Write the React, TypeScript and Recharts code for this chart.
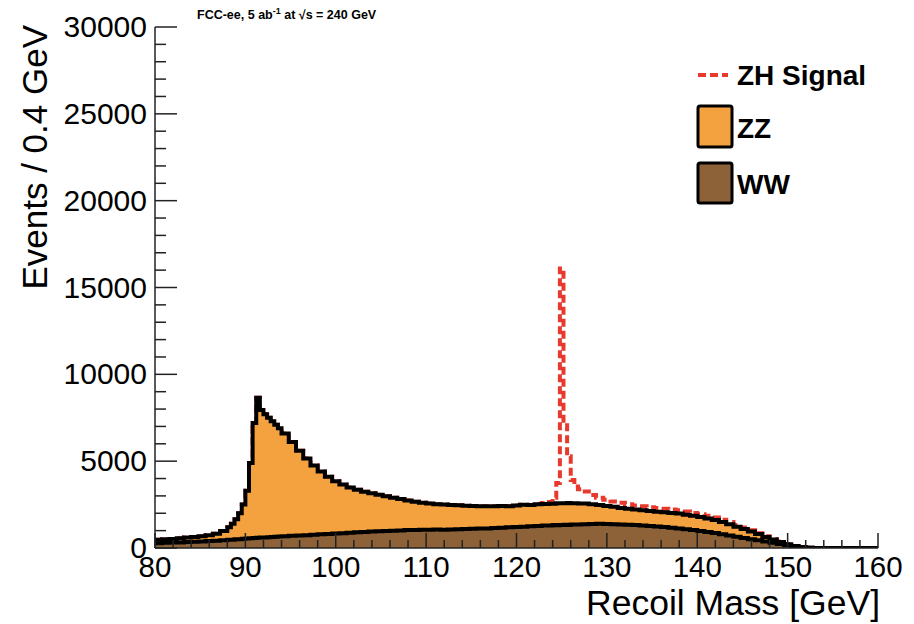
import React from 'react';
import { ComposedChart, Area, XAxis, YAxis, Legend, Label } from 'recharts';

// low edge of each bin [GeV]; the last entry only closes the final step
const massBins = [
  80.0, 80.8, 81.6, 82.4, 83.2, 84.0, 84.8, 85.6, 86.4, 87.2,
  88.0, 88.4, 88.8, 89.2, 89.6, 90.0, 90.4, 90.8, 91.2, 91.6, 92.0, 92.4, 92.8, 93.2, 93.6,
  94.0, 94.8, 95.6, 96.4, 97.2, 98.0, 98.8, 99.6, 100.4, 101.2,
  102.0, 102.8, 103.6, 104.4, 105.2, 106.0, 106.8, 107.6, 108.4, 109.2,
  110.0, 110.8, 111.6, 112.4, 113.2, 114.0, 114.8, 115.6, 116.4, 117.2,
  118.0, 118.8, 119.6, 120.4, 121.2, 122.0, 122.8,
  123.6, 124.0, 124.4, 124.8, 125.2, 125.6, 126.0, 126.4, 126.8,
  127.2, 128.0, 128.8, 129.6, 130.4, 131.2, 132.0, 132.8, 133.6, 134.4,
  135.2, 136.0, 136.8, 137.6, 138.4, 139.2, 140.0, 140.8, 141.6, 142.4,
  143.2, 144.0, 144.8, 145.6, 146.4, 147.2, 148.0, 148.8, 149.6, 150.4,
  151.2, 152.0, 152.8,
  160.0,
];

const wwEvents = [
  280, 300, 310, 320, 340, 360, 380, 400, 420, 450,
  470, 480, 500, 510, 530, 550, 560, 570, 590, 600, 610, 620, 640, 650, 660,
  680, 700, 720, 740, 770, 790, 800, 830, 850, 880,
  900, 920, 950, 960, 980, 1000, 1010, 1030, 1040, 1050,
  1050, 1060, 1050, 1070, 1080, 1090, 1110, 1120, 1130, 1150,
  1170, 1190, 1210, 1230, 1250, 1270, 1290,
  1300, 1320, 1310, 1330, 1340, 1330, 1350, 1360, 1350,
  1370, 1380, 1390, 1380, 1370, 1360, 1340, 1320, 1300, 1270,
  1240, 1210, 1170, 1130, 1080, 1030, 980, 920, 860, 790,
  720, 650, 580, 510, 440, 370, 300, 230, 170, 100,
  40, 10, 0,
  0,
];

const zzEvents = [
  200, 200, 210, 240, 260, 280, 300, 330, 400, 530,
  730, 920, 1150, 1490, 1970, 2750, 4340, 6630, 8060, 7350, 7090, 6880, 6660, 6450, 6240,
  5920, 5400, 4880, 4410, 3980, 3610, 3300, 3020, 2800, 2600,
  2450, 2320, 2200, 2110, 2000, 1900, 1810, 1710, 1620, 1550,
  1510, 1460, 1450, 1410, 1380, 1350, 1310, 1290, 1270, 1250,
  1250, 1220, 1240, 1260, 1230, 1250, 1240,
  1250, 1230, 1260, 1250, 1240, 1260, 1230, 1220, 1210,
  1190, 1140, 1090, 1040, 1000, 950, 920, 890, 870, 860,
  850, 850, 850, 850, 840, 820, 800, 780, 750, 710,
  650, 580, 510, 440, 360, 270, 190, 120, 50, 20,
  10, 0, 0,
  0,
];

const zhEvents = [
  0, 0, 0, 0, 0, 0, 0, 0, 0, 0,
  0, 0, 0, 0, 0, 0, 0, 0, 0, 0, 0, 0, 0, 0, 0,
  0, 0, 0, 0, 0, 0, 0, 0, 0, 0,
  0, 0, 0, 0, 0, 0, 0, 0, 0, 0,
  0, 0, 0, 0, 0, 0, 0, 0, 0, 0,
  0, 0, 0, 0, 0, 20, 60,
  100, 340, 1180, 13520, 4610, 2690, 1330, 960, 830,
  690, 530, 420, 360, 310, 290, 260, 240, 230, 220,
  210, 200, 200, 190, 180, 170, 160, 150, 140, 130,
  120, 100, 90, 70, 50, 40, 30, 20, 10, 0,
  0, 0, 0,
  0,
];

const xTicks = [
  80, 82, 84, 86, 88, 90, 92, 94, 96, 98, 100, 102, 104, 106, 108, 110, 112, 114, 116, 118, 120,
  122, 124, 126, 128, 130, 132, 134, 136, 138, 140, 142, 144, 146, 148, 150, 152, 154, 156, 158, 160,
];
const yTicks = [
  0, 1000, 2000, 3000, 4000, 5000, 6000, 7000, 8000, 9000, 10000, 11000, 12000, 13000, 14000, 15000,
  16000, 17000, 18000, 19000, 20000, 21000, 22000, 23000, 24000, 25000, 26000, 27000, 28000, 29000, 30000,
];

const W = 914;
const H = 624;
const PLOT = { left: 155, right: 878, top: 27, bottom: 548 };
const FONT = '"Liberation Sans", Arial, Helvetica, sans-serif';
const ORANGE = '#F4A13F';
const BROWN = '#8D6238';
const RED = '#E8392C';
const AXIS = '#222';

const data = massBins.map((m, i) => ({
  mass: m,
  ww: wwEvents[i],
  zz: zzEvents[i],
  total: wwEvents[i] + zzEvents[i] + zhEvents[i],
}));

const BottomTick = ({ x, payload }: any) => {
  const major = payload.value % 10 === 0;
  return (
    <g>
      <line x1={x} x2={x} y1={PLOT.bottom} y2={PLOT.bottom - (major ? 15 : 8)} stroke={AXIS} strokeWidth={1.5} />
      {major && (
        <text x={x} y={577} textAnchor="middle" fontSize={29.5} fontFamily={FONT} fill="#000">
          {payload.value}
        </text>
      )}
    </g>
  );
};

const TopTick = ({ x, payload }: any) => {
  const major = payload.value % 10 === 0;
  return <line x1={x} x2={x} y1={PLOT.top} y2={PLOT.top + (major ? 15 : 8)} stroke={AXIS} strokeWidth={1.5} />;
};

const LeftTick = ({ y, payload }: any) => {
  const major = payload.value % 5000 === 0;
  return (
    <g>
      <line x1={PLOT.left} x2={PLOT.left + (major ? 22 : 11)} y1={y} y2={y} stroke={AXIS} strokeWidth={1.5} />
      {major && (
        <text x={147} y={y + 10} textAnchor="end" fontSize={30} fontFamily={FONT} fill="#000">
          {payload.value}
        </text>
      )}
    </g>
  );
};

const RightTick = ({ y, payload }: any) => {
  const major = payload.value % 5000 === 0;
  return <line x1={PLOT.right} x2={PLOT.right - (major ? 22 : 11)} y1={y} y2={y} stroke={AXIS} strokeWidth={1.5} />;
};

const LegendBox = () => (
  <svg width={210} height={160}>
    <line x1={8} x2={38} y1={20} y2={20} stroke={RED} strokeWidth={4} strokeDasharray="8 4" />
    <text x={47} y={30} fontSize={28} fontWeight="bold" fontFamily={FONT} fill="#000">ZH Signal</text>
    <rect x={8} y={51} width={34} height={41} rx={2} fill={ORANGE} stroke="#000" strokeWidth={3} />
    <text x={47} y={83} fontSize={28} fontWeight="bold" fontFamily={FONT} fill="#000">ZZ</text>
    <rect x={8} y={108} width={34} height={40} rx={2} fill={BROWN} stroke="#000" strokeWidth={3} />
    <text x={47} y={139} fontSize={28} fontWeight="bold" fontFamily={FONT} fill="#000">WW</text>
  </svg>
);

const YTitle = () => (
  <g>
    <text x={197} y={19} fontSize={12.5} fontWeight="bold" fontFamily={FONT} fill="#000">
      FCC-ee, 5 ab
      <tspan dy={-5} fontSize={9}>-1</tspan>
      <tspan dy={5}> at √s = 240 GeV</tspan>
    </text>
    <text
      x={47}
      y={25}
      textAnchor="end"
      fontSize={35}
      fontFamily={FONT}
      fill="#000"
      transform="rotate(-90, 47, 25)"
    >
      Events / 0.4 GeV
    </text>
  </g>
);

export default function App() {
  return (
    <div style={{ position: 'absolute', left: 0, top: 0, width: W, height: H, background: '#fff' }}>
      <ComposedChart width={W} height={H} data={data} margin={{ top: 27, right: 36, bottom: 0, left: 0 }}>
        <XAxis
          xAxisId="top"
          orientation="top"
          type="number"
          dataKey="mass"
          domain={[80, 160]}
          ticks={xTicks}
          interval={0}
          height={0}
          tick={TopTick}
          tickLine={false}
          axisLine={{ stroke: AXIS, strokeWidth: 1.5 }}
          allowDataOverflow
        />
        <XAxis
          xAxisId="bottom"
          type="number"
          dataKey="mass"
          domain={[80, 160]}
          ticks={xTicks}
          interval={0}
          height={76}
          tick={BottomTick}
          tickLine={false}
          axisLine={{ stroke: AXIS, strokeWidth: 1.5 }}
          allowDataOverflow
        >
          <Label
            content={() => (
              <text x={880} y={615} textAnchor="end" fontSize={35.5} fontFamily={FONT} fill="#000">
                Recoil Mass [GeV]
              </text>
            )}
          />
        </XAxis>
        <YAxis
          yAxisId="left"
          type="number"
          domain={[0, 30000]}
          ticks={yTicks}
          interval={0}
          width={155}
          tick={LeftTick}
          tickLine={false}
          axisLine={{ stroke: AXIS, strokeWidth: 1.5 }}
          allowDataOverflow
        >
          <Label content={YTitle} />
        </YAxis>
        <YAxis
          yAxisId="right"
          orientation="right"
          type="number"
          domain={[0, 30000]}
          ticks={yTicks}
          interval={0}
          width={0}
          tick={RightTick}
          tickLine={false}
          axisLine={{ stroke: AXIS, strokeWidth: 1.5 }}
          allowDataOverflow
        />
        <Legend
          layout="horizontal"
          verticalAlign="middle"
          align="center"
          content={LegendBox}
          wrapperStyle={{ left: 690, top: 55, width: 210, height: 160 }}
        />
        <Area
          xAxisId="bottom"
          yAxisId="left"
          type="stepAfter"
          dataKey="total"
          fill="none"
          stroke={RED}
          strokeWidth={4}
          strokeDasharray="8 4"
          isAnimationActive={false}
        />
        <Area
          xAxisId="bottom"
          yAxisId="left"
          type="stepAfter"
          dataKey="ww"
          stackId="bkg"
          fill={BROWN}
          fillOpacity={1}
          stroke="none"
          isAnimationActive={false}
        />
        <Area
          xAxisId="bottom"
          yAxisId="left"
          type="stepAfter"
          dataKey="zz"
          stackId="bkg"
          fill={ORANGE}
          fillOpacity={1}
          stroke="#000"
          strokeWidth={4}
          isAnimationActive={false}
        />
        {/* WW outline again so the ZZ fill does not hide half of it */}
        <Area
          xAxisId="bottom"
          yAxisId="left"
          type="stepAfter"
          dataKey="ww"
          fill="none"
          stroke="#000"
          strokeWidth={4}
          isAnimationActive={false}
        />
      </ComposedChart>
    </div>
  );
}
